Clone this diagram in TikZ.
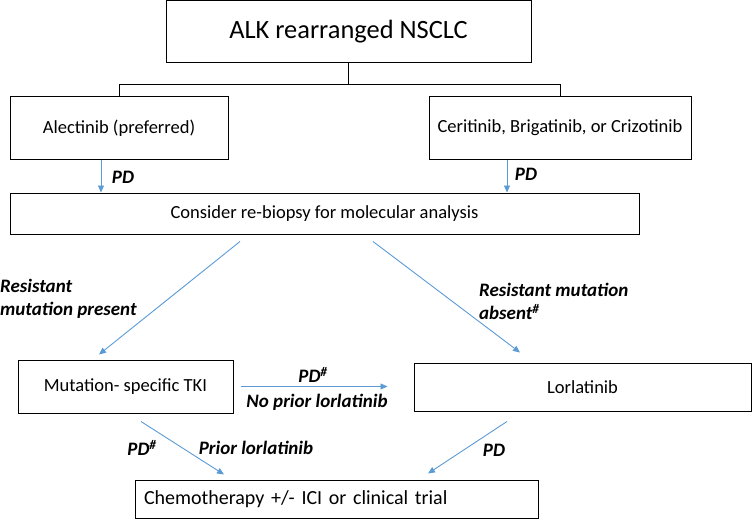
\documentclass[tikz,border=0pt]{standalone}
\usepackage{fontspec}
\setmainfont{Carlito}
\usetikzlibrary{arrows.meta}

\begin{document}
\begin{tikzpicture}[x=1pt,y=-1pt,
  box/.style={draw=black,line width=1pt,minimum width=#1,inner sep=0pt,font=\fontsize{18.5}{22}\selectfont},
  lbl/.style={font=\fontsize{19}{23}\selectfont\bfseries\itshape,inner sep=0pt},
  flow/.style={draw=flowBlue,line width=0.9pt,-{Triangle[length=7pt,width=6pt]}}]
\definecolor{flowBlue}{HTML}{5B9BD5}
\useasboundingbox (0,0) rectangle (753,519);
% boxes
\node[box=365pt,minimum height=62pt,font=\fontsize{26.4}{30}\selectfont] (alk) at (348.5,32) {ALK rearranged NSCLC};
\node[box=218pt,minimum height=62pt] (alec) at (119,128) {Alectinib (preferred)};
\node[box=262pt,minimum height=62pt] (cerit) at (560,128) {Ceritinib, Brigatinib, or Crizotinib};
\node[box=629pt,minimum height=41pt] (rebiopsy) at (324.5,213.5) {Consider re-biopsy for molecular analysis};
\node[box=215pt,minimum height=53pt] (mutTKI) at (125.5,386.5) {Mutation- specific TKI};
\node[box=337pt,minimum height=48pt] (lorla) at (582.5,387) {Lorlatinib};
\node[box=403pt,minimum height=38pt,text width=385pt,align=left,font=\fontsize{20}{24}\selectfont] (chemo) at (336.5,499) {Chemotherapy +/- ICI or clinical trial};
% tree from the top box
\draw[line width=1pt] (alk.south) -- ++(0,21) coordinate (split);
\draw[line width=1pt] (split) -| (alec.north);
\draw[line width=1pt] (split) -| (cerit.north);
% arrows
\draw[flow] ([xshift=-18pt]alec.south) -- ([xshift=-18pt]alec.south |- rebiopsy.north);
\draw[flow] ([xshift=-53pt]cerit.south) -- ([xshift=-53pt]cerit.south |- rebiopsy.north);
\draw[flow] ([xshift=-84.5pt,yshift=-7pt]rebiopsy.south) -- ([xshift=-26.5pt,yshift=5pt]mutTKI.north);
\draw[flow] ([xshift=48.5pt,yshift=-7pt]rebiopsy.south) -- ([xshift=-62.5pt,yshift=10pt]lorla.north);
\draw[flow] ([xshift=7pt]mutTKI.east) -- ([xshift=-26pt]mutTKI.east -| lorla.west);
\draw[flow] ([xshift=15.5pt,yshift=-8pt]mutTKI.south) -- ([xshift=-112.5pt,yshift=5pt]chemo.north);
\draw[flow] ([xshift=-75.5pt,yshift=-10pt]lorla.south) -- ([xshift=91.5pt,yshift=6pt]chemo.north);
% labels
\node[lbl] (pdAlec) at (123,177) {PD};
\node[lbl] (pdCerit) at (526,174) {PD};
\node[lbl,anchor=west,align=left] (resPresent) at (0,298.5) {Resistant\\mutation present};
\node[lbl,anchor=west,align=left] (resAbsent) at (479,301.5) {Resistant mutation\\absent\textsuperscript{\#}};
\node[lbl] (pdNoPrior) at (313,375) {PD\textsuperscript{\#}};
\node[lbl] (noPrior) at (317,402) {No prior lorlatinib};
\node[lbl] (pdPrior) at (142,448) {PD\textsuperscript{\#}};
\node[lbl] (prior) at (256,448) {Prior lorlatinib};
\node[lbl] (pdLorla) at (494,450) {PD};
\end{tikzpicture}
\end{document}
